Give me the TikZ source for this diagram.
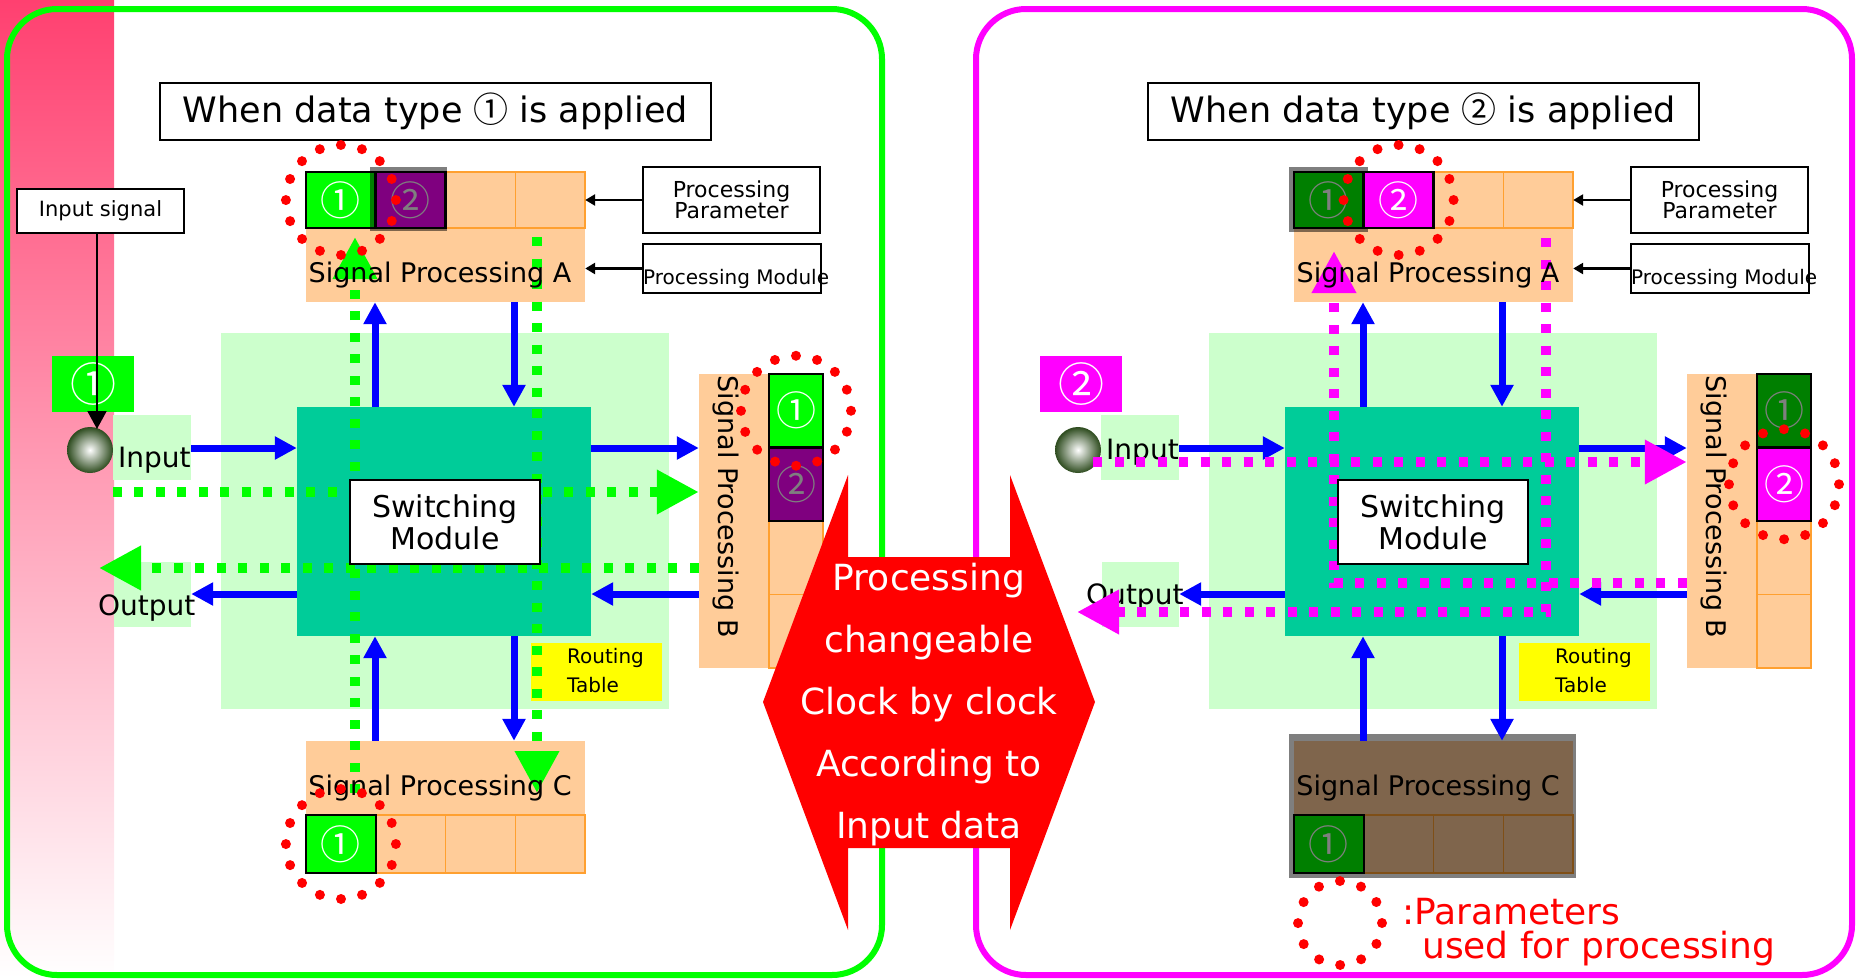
\documentclass[tikz,border=0pt]{standalone}
\usepackage{fontspec}
\setmainfont{DejaVu Sans}
\newfontfamily\cjk{Noto Sans CJK JP}
\usetikzlibrary{arrows.meta}

\definecolor{peach}{HTML}{FFCC99}
\definecolor{peachline}{HTML}{FFA030}
\definecolor{lgreen}{HTML}{CCFFCC}
\definecolor{swteal}{HTML}{00CC99}
\definecolor{bgreen}{HTML}{00FF00}
\definecolor{mag}{HTML}{FF00FF}
\definecolor{bblue}{HTML}{0000FF}
\definecolor{ylw}{HTML}{FFFF00}
\definecolor{pinktop}{RGB}{255,64,112}
\definecolor{ballrim}{RGB}{45,75,30}
\definecolor{hexred}{HTML}{FF0000}

\pgfdeclarelayer{back}
\pgfdeclarelayer{front}
\pgfdeclarelayer{top}
\pgfsetlayers{back,main,front,top}

\newcommand{\fsz}[1]{\fontsize{#1pt}{#1pt}\selectfont}

\tikzset{
  blk/.style={draw=black, line width=2pt, fill=white, inner sep=0pt},
  area/.style={draw=none, inner sep=0pt},
  cellbox/.style={draw=peachline, line width=1.2pt, fill=peach, inner sep=0pt},
  hicell/.style={draw=black, line width=2.5pt, inner sep=0pt, text=white, font=\cjk\fsz{40}},
  acell/.style={minimum width=69.75pt, minimum height=56pt},
  ccell/.style={minimum width=69.75pt, minimum height=58pt},
  bcell/.style={minimum width=54pt, minimum height=73.5pt},
  dim/.style={fill=black, fill opacity=0.5},
  barrow/.style={draw=bblue, line width=7pt, -{Triangle[length=22pt,width=22pt]}},
  karrow/.style={draw=black, line width=2.5pt, -{Triangle[length=10pt,width=11pt]}},
  gdot/.style={draw=bgreen, line width=10pt, dash pattern=on 9pt off 12.5pt, -{Triangle[length=42pt,width=42pt]}},
  mdot/.style={gdot, draw=mag},
  reddots/.style={draw=hexred, line width=10pt, line cap=round, dash pattern=on 0pt off 21.6pt},
  lbl/.style={inner sep=0pt, anchor=base west},
}

% #1 title digit, #2 square colour, #3 square digit, #4 input baseline, #5 output baseline
\newcommand{\panelbase}[5]{%
  \begin{pgfonlayer}{back}
    \node[area, fill=lgreen, minimum width=448pt, minimum height=376pt] (bg) at (445,521) {};
    \node[area, fill=lgreen, minimum width=78pt, minimum height=65pt] (inbox) at (152,447.5) {};
    \node[area, fill=lgreen, minimum width=77pt, minimum height=65pt] (outbox) at (152.5,594.5) {};
    \node[lbl, font=\fsz{28}] (intext) at (118,#4) {Input};
    \node[lbl, font=\fsz{28}] (outtext) at (98,#5) {Output};
  \end{pgfonlayer}
  \node[blk, minimum width=551pt, minimum height=57pt, font=\fsz{35}] (title) at (435.5,111.5) {When data type {\cjk #1} is applied};
  \node[area, fill=swteal, minimum width=294pt, minimum height=229pt] (sw) at (444,521.5) {};
  \node[area, fill=peach, minimum width=279pt, minimum height=130pt] (spa) at (445.5,237) {};
  \node[area, fill=peach, minimum width=279pt, minimum height=132pt] (spc) at (445.5,807) {};
  \node[area, fill=peach, minimum width=124pt, minimum height=294pt] (spb) at (761,521) {};
  \node[cellbox, acell] (a1) at (340.9,200) {};
  \node[cellbox, acell] (a2) at (410.6,200) {};
  \node[cellbox, acell] (a3) at (480.4,200) {};
  \node[cellbox, acell] (a4) at (550.1,200) {};
  \node[cellbox, ccell] (c1) at (340.9,844) {};
  \node[cellbox, ccell] (c2) at (410.6,844) {};
  \node[cellbox, ccell] (c3) at (480.4,844) {};
  \node[cellbox, ccell] (c4) at (550.1,844) {};
  \node[cellbox, bcell] (b1) at (796,410.75) {};
  \node[cellbox, bcell] (b2) at (796,484.25) {};
  \node[cellbox, bcell] (b3) at (796,557.75) {};
  \node[cellbox, bcell] (b4) at (796,631.25) {};
  \node[area, fill=ylw, minimum width=131pt, minimum height=58pt] (rt) at (596.5,672) {};
  \node[lbl, font=\fsz{20}] (rt1) at (567,663) {Routing};
  \node[lbl, font=\fsz{20}] (rt2) at (567,692) {Table};
  \node[blk, minimum width=177pt, minimum height=66pt, align=center, font=\fontsize{22pt}{21pt}\selectfont] (pp) at (731.5,200) {Processing\\Parameter};
  \node[blk, minimum width=178pt, minimum height=49pt] (pm) at (732,268.5) {};
  \node[lbl, font=\fsz{20}] (pmtext) at (643,284) {Processing Module};
  \node[area, fill=#2, minimum width=82pt, minimum height=56pt, text=white, font=\cjk\fsz{46}] (sq) at (93,384) {#3};
  \node[circle, minimum size=46pt, inner sep=0pt, inner color=white, outer color=ballrim] (ball) at (90,450) {};
  \draw[karrow] (pp.west) -- (spa.east |- pp.west);
  \draw[karrow] (pm.west) -- (spa.east |- pm.west);
  \begin{pgfonlayer}{top}
    \node[blk, minimum width=190pt, minimum height=84pt, align=center, font=\fontsize{30pt}{32pt}\selectfont] (swm) at (445,522) {Switching\\Module};
    \node[inner sep=0pt, anchor=base, font=\fsz{27}] (spat) at (440,282) {Signal Processing A};
    \node[inner sep=0pt, anchor=base, font=\fsz{27}] (spct) at (440,795) {Signal Processing C};
    \node[inner sep=0pt, rotate=-90, font=\fsz{27}] (spbt) at (726,507) {Signal Processing B};
  \end{pgfonlayer}
}

\newcommand{\panelarrows}{%
  \coordinate (r1) at (0,448);
  \coordinate (r2) at (0,594);
  \coordinate (k1) at (375,0);
  \coordinate (k2) at (514,0);
  \draw[barrow] (inbox.east |- r1) -- (sw.west |- r1);
  \draw[barrow] (sw.east |- r1) -- (spb.west |- r1);
  \draw[barrow] (spb.west |- r2) -- (sw.east |- r2);
  \draw[barrow] (sw.west |- r2) -- (outbox.east |- r2);
  \draw[barrow] (sw.north -| k1) -- (spa.south -| k1);
  \draw[barrow] (spa.south -| k2) -- (sw.north -| k2);
  \draw[barrow] (spc.north -| k1) -- (sw.south -| k1);
  \draw[barrow] (sw.south -| k2) -- (spc.north -| k2);
}

\begin{document}
\begin{tikzpicture}[x=1pt,y=-1pt]
\useasboundingbox (0,0) rectangle (1858,978);
\begin{pgfonlayer}{back}
  \shade[top color=pinktop, bottom color=white] (0,0) rectangle (114,978);
\end{pgfonlayer}

% ---------------- left panel ----------------
\begin{scope}[name prefix=L-]
  \panelbase{①}{bgreen}{①}{467}{615}
  \node[hicell, acell, fill=bgreen] (a1h) at (a1) {①};
  \node[hicell, acell, fill=mag] (a2h) at (a2) {②};
  \fill[dim] (370,167) rectangle (447,231);
  \node[hicell, bcell, fill=bgreen] (b1h) at (b1) {①};
  \node[hicell, bcell, fill=mag] (b2h) at (b2) {②};
  \fill[dim] (b2h.north west) rectangle (b2h.south east);
  \node[hicell, ccell, fill=bgreen] (c1h) at (c1) {①};
  \node[blk, minimum width=167pt, minimum height=44pt, font=\fsz{21}] (insig) at (100.5,211) {Input signal};
  \coordinate (ballin) at (97,429);
  \draw[line width=2pt, -{Triangle[length=18pt,width=19pt]}] (insig.south -| ballin) -- (ballin);
  \panelarrows
  \begin{pgfonlayer}{front}
    \coordinate (gout) at (99,568);
    \coordinate (gc0) at (355,793);
    \coordinate (gc1) at (355,237);
    \coordinate (gd0) at (537,237);
    \coordinate (gd1) at (537,793);
    \draw[gdot] (inbox.west |- 0,492) -- (spb.west |- 0,492);
    \draw[gdot] (spb.west |- 0,568) -- (gout);
    \draw[gdot] (gc0) -- (gc1);
    \draw[gdot] (gd0) -- (gd1);
  \end{pgfonlayer}
  \begin{pgfonlayer}{top}
    \draw[reddots] (a1h.center) circle[radius=55pt];
    \draw[reddots] (b1h.center) circle[radius=55pt];
    \draw[reddots] (c1h.center) circle[radius=55pt];
  \end{pgfonlayer}
\end{scope}

% ---------------- right panel ----------------
\begin{scope}[xshift=988pt, name prefix=R-]
  \panelbase{②}{mag}{②}{459}{604}
  \node[hicell, acell, fill=bgreen] (a1h) at (a1) {①};
  \fill[dim] (301,167) rectangle (380,232);
  \node[hicell, acell, fill=mag] (a2h) at (a2) {②};
  \node[hicell, bcell, fill=bgreen] (b1h) at (b1) {①};
  \fill[dim] (b1h.north west) rectangle (b1h.south east);
  \node[hicell, bcell, fill=mag] (b2h) at (b2) {②};
  \node[hicell, ccell, fill=bgreen] (c1h) at (c1) {①};
  \fill[dim] (301,734) rectangle (588,878);
  \panelarrows
  \begin{pgfonlayer}{front}
    \coordinate (ma0) at (105,462);
    \coordinate (mb1) at (346,251);
    \coordinate (mc0) at (558,238);
    \coordinate (mc1) at (89,612);
    \draw[mdot] (ma0) -- (spb.west |- 0,462);
    \draw[mdot] (spb.west |- 0,583) -| (mb1);
    \draw[mdot] (mc0) |- (mc1);
  \end{pgfonlayer}
  \begin{pgfonlayer}{top}
    \draw[reddots] (a2h.center) circle[radius=55pt];
    \draw[reddots] (b2h.center) circle[radius=55pt];
    \coordinate (legc) at (352,923);
    \draw[reddots, dash pattern=on 0pt off 22pt] (legc) circle[radius=42pt];
    \node[lbl, text=hexred, font=\fsz{36}] (leg1) at (414,924) {:Parameters};
    \node[lbl, text=hexred, font=\fsz{36}] (leg2) at (434,958) {used for processing};
  \end{pgfonlayer}
\end{scope}

% ---------------- frames and central arrow ----------------
\begin{pgfonlayer}{top}
  \draw[bgreen, line width=6pt, rounded corners=50pt] (7,9) rectangle (882,975);
  \draw[mag, line width=6pt, rounded corners=50pt] (976,9) rectangle (1852,975);
  \fill[hexred] (763,702) -- (848,475) -- (848,557) -- (1010,557) -- (1010,475) -- (1095,702)
     -- (1010,930) -- (1010,848) -- (848,848) -- (848,930) -- cycle;
  \node[align=center, text=white, inner sep=0pt, font=\fontsize{36pt}{62pt}\selectfont] (hex) at (929,705)
     {Processing\\changeable\\Clock by clock\\According to\\Input data};
\end{pgfonlayer}
\end{tikzpicture}
\end{document}
